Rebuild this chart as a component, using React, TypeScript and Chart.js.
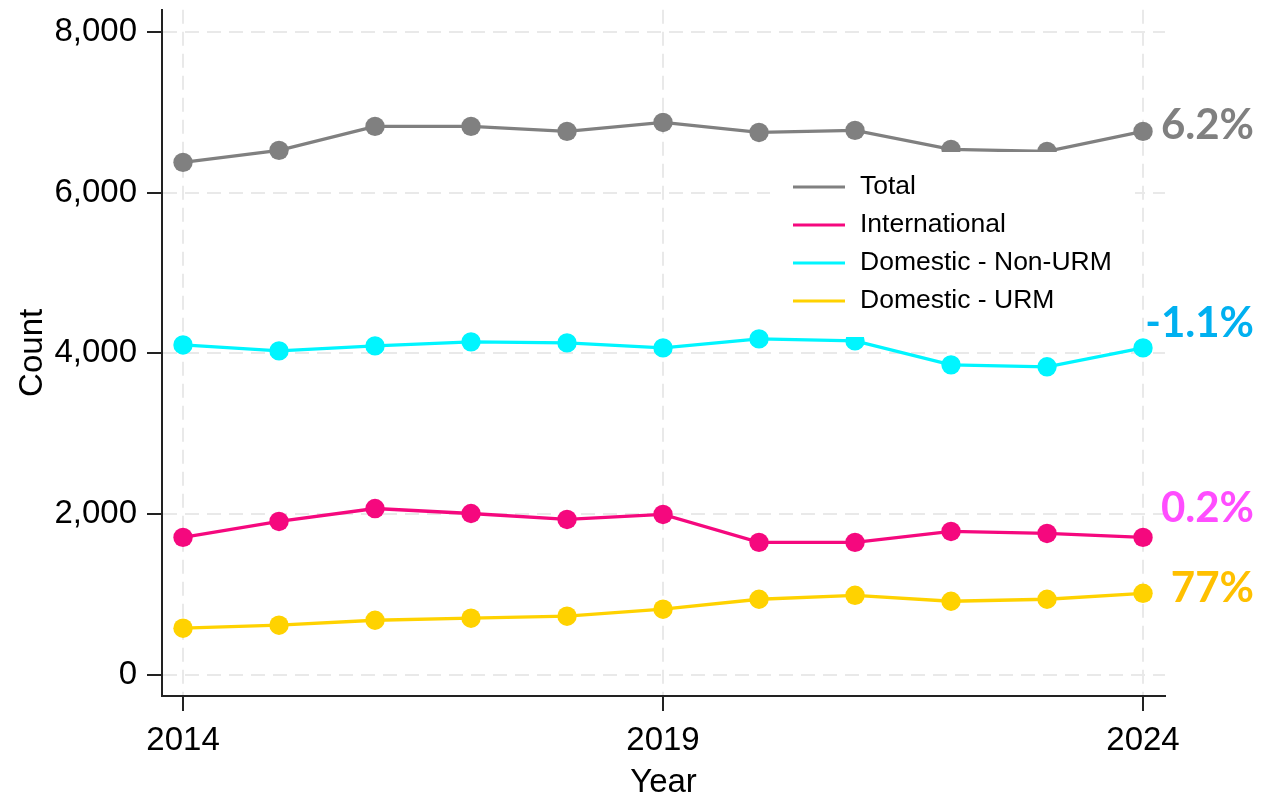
import React, { useEffect, useRef } from "react";
import { Chart, registerables } from "chart.js";

Chart.register(...registerables);

const years = [2014, 2015, 2016, 2017, 2018, 2019, 2020, 2021, 2022, 2023, 2024];
const totalCounts = [6375, 6524, 6822, 6822, 6760, 6871, 6747, 6772, 6536, 6512, 6760];
const internationalCounts = [1712, 1910, 2071, 2009, 1935, 1997, 1650, 1650, 1786, 1761, 1712];
const nonUrmCounts = [4105, 4031, 4093, 4143, 4130, 4068, 4180, 4155, 3857, 3833, 4068];
const urmCounts = [583, 620, 682, 707, 732, 819, 943, 992, 918, 943, 1017];

const seriesNames = ["Total", "International", "Domestic - Non-URM", "Domestic - URM"];
const seriesColors = ["#808080", "#F5087E", "#00F5FF", "#FFD200"];
const changeLabels = ["6.2%", "0.2%", "-1.1%", "77%"];
const changeColors = ["#808080", "#FF4DFF", "#00B0F0", "#FFC000"];

const xTicks = [2014, 2019, 2024];
const yTicks = [0, 2000, 4000, 6000, 8000];

const FONT = "'Liberation Sans', Arial, sans-serif";

const overlayPlugin = {
  id: "overlay",
  afterDatasetsDraw(chart: any) {
    const ctx = chart.ctx;
    ctx.save();
    // legend box
    ctx.fillStyle = "#ffffff";
    ctx.fillRect(770, 152, 365, 185);
    ctx.font = `26.5px ${FONT}`;
    ctx.textBaseline = "middle";
    ctx.textAlign = "left";
    const rows = [187, 225, 263, 301];
    chart.data.datasets.forEach((ds: any, i: number) => {
      ctx.strokeStyle = ds.borderColor;
      ctx.lineWidth = 3;
      ctx.beginPath();
      ctx.moveTo(793, rows[i]);
      ctx.lineTo(845, rows[i]);
      ctx.stroke();
      ctx.fillStyle = "#000";
      ctx.fillText(ds.label, 860, rows[i]);
    });
    // change annotations
    const yScale = chart.scales.y;
    const offsets = [-6, -29, -24, -5];
    ctx.font = `bold 42px Lato, 'Open Sans', sans-serif`;
    ctx.textAlign = "right";
    chart.data.datasets.forEach((ds: any, i: number) => {
      const last = ds.data[ds.data.length - 1];
      const py = yScale.getPixelForValue(last.y) + offsets[i];
      ctx.fillStyle = changeColors[i];
      ctx.fillText(changeLabels[i], 1254, py);
    });
    ctx.restore();
  },
};

export default function App() {
  const ref = useRef<HTMLCanvasElement | null>(null);

  useEffect(() => {
    if (!ref.current) return;
    const series = [totalCounts, internationalCounts, nonUrmCounts, urmCounts];
    const chart = new Chart(ref.current, {
      type: "line",
      data: {
        datasets: series.map((vals, i) => ({
          label: seriesNames[i],
          data: years.map((yr, j) => ({ x: yr, y: vals[j] })),
          borderColor: seriesColors[i],
          backgroundColor: seriesColors[i],
          pointBackgroundColor: seriesColors[i],
          pointBorderColor: seriesColors[i],
          pointBorderWidth: 0,
          pointRadius: 9.7,
          borderWidth: 3.3,
          tension: 0,
          fill: false,
        })),
      },
      options: {
        animation: false,
        responsive: false,
        maintainAspectRatio: false,
        layout: { padding: { top: 8, right: 116, left: 0, bottom: 0 } },
        plugins: {
          legend: { display: false },
          tooltip: { enabled: false },
        },
        scales: {
          x: {
            type: "linear",
            min: 2013.781,
            max: 2024.229,
            afterBuildTicks: (s: any) => {
              s.ticks = xTicks.map((v) => ({ value: v }));
            },
            afterFit: (s: any) => {
              s.height = 103;
              s.paddingLeft = 0;
              s.paddingRight = 0;
            },
            grid: {
              color: "#e9e9e9",
              lineWidth: 2,
              drawTicks: true,
              tickLength: 15,
              tickColor: "#222",
              tickWidth: 2,
              tickBorderDash: [],
            },
            border: { display: true, color: "#222", width: 2, dash: [14, 8] },
            ticks: {
              color: "#000",
              font: { family: FONT, size: 33 },
              padding: 10,
              maxRotation: 0,
              autoSkip: false,
              callback: (v: any) => String(v),
            },
            title: {
              display: true,
              text: "Year",
              color: "#000",
              font: { family: FONT, size: 33, lineHeight: 1.0 },
              padding: 0,
            },
          },
          y: {
            type: "linear",
            min: -260,
            max: 8273,
            afterBuildTicks: (s: any) => {
              s.ticks = yTicks.map((v) => ({ value: v }));
            },
            afterFit: (s: any) => {
              s.width = 162;
              s.paddingTop = 0;
              s.paddingBottom = 0;
            },
            grid: {
              color: "#e9e9e9",
              lineWidth: 2,
              drawTicks: true,
              tickLength: 15,
              tickColor: "#222",
              tickWidth: 2,
              tickBorderDash: [],
            },
            border: { display: true, color: "#222", width: 2, dash: [14, 8] },
            ticks: {
              color: "#000",
              font: { family: FONT, size: 33 },
              padding: 10,
              autoSkip: false,
              callback: (v: any) => Number(v).toLocaleString("en-US"),
            },
            title: {
              display: true,
              text: "Count",
              color: "#000",
              font: { family: FONT, size: 33, lineHeight: 1.1 },
              padding: { top: 15, bottom: 0 },
            },
          },
        },
      },
      plugins: [overlayPlugin],
    });
    return () => chart.destroy();
  }, []);

  return (
    <div style={{ position: "fixed", left: 0, top: 0, width: 1281, height: 799, background: "#fff" }}>
      <canvas ref={ref} width={1281} height={799} style={{ display: "block" }} />
    </div>
  );
}
